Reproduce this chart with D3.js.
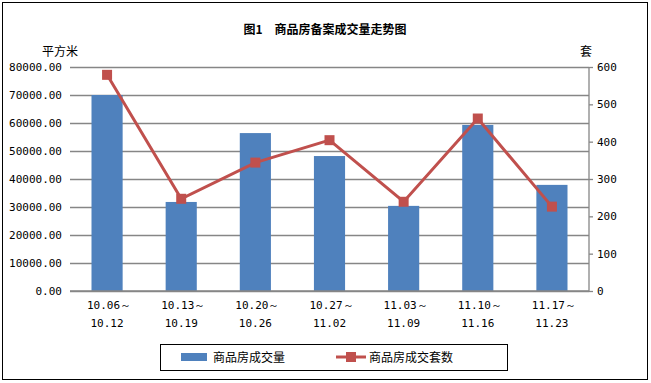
<!DOCTYPE html>
<html><head><meta charset="utf-8">
<script src="https://cdn.jsdelivr.net/npm/d3@7"></script>
<style>body{margin:0;background:#fff}svg{display:block}</style>
</head><body><svg id="c" width="651" height="383"></svg>
<script>
const categories = [["10.06～","10.12"],["10.13～","10.19"],["10.20～","10.26"],["10.27～","11.02"],["11.03～","11.09"],["11.10～","11.16"],["11.17～","11.23"]];
const areaValues = [70000, 31800, 56400, 48200, 30400, 59300, 37900];
const unitValues = [579, 247, 344, 404, 239, 462, 226];
const leftTicks = [0,10000,20000,30000,40000,50000,60000,70000,80000];
const rightTicks = [0,100,200,300,400,500,600];
const title = "图1　商品房备案成交量走势图";
const seriesNames = ["商品房成交量","商品房成交套数"];

const svg = d3.select("#c");
const W=651,H=383;
const m={l:70,r:589,t:67,b:291};
const blue="#4F81BD", red="#C0504D", grid="#868686";
const cjk="'Noto Sans CJK SC', sans-serif";
const mono="'DejaVu Sans Mono', monospace";

svg.append("rect").attr("x",2.5).attr("y",2.5).attr("width",645).attr("height",377).attr("fill","#fff").attr("stroke","#000").attr("stroke-width",1);

const x=d3.scaleBand().domain(d3.range(categories.length)).range([m.l,m.r]).paddingInner(0.58).paddingOuter(0.29);
const yL=d3.scaleLinear().domain([0,80000]).range([m.b,m.t]);
const yR=d3.scaleLinear().domain([0,600]).range([m.b,m.t]);

// gridlines
const gl=d3.axisLeft(yL).tickValues(leftTicks).tickSize(-(m.r-m.l)).tickFormat(d=>d3.format(".2f")(d)).tickPadding(8);
const ga=svg.append("g").attr("transform",`translate(${m.l},0)`).call(gl);
ga.select(".domain").remove();
ga.selectAll("line").attr("stroke",grid).attr("stroke-width",1.3);
ga.selectAll("text").attr("font-family",mono).attr("font-size",11).attr("fill","#000");

// bars
svg.append("g").selectAll("rect").data(areaValues).join("rect")
  .attr("x",(d,i)=>x(i)).attr("width",x.bandwidth())
  .attr("y",d=>yL(d)).attr("height",d=>yL(0)-yL(d)).attr("fill",blue);

// right axis
const ra=svg.append("g").attr("transform",`translate(${m.r},0)`).call(d3.axisRight(yR).tickValues(rightTicks).tickSize(4).tickPadding(4));
ra.select(".domain").attr("stroke",grid).attr("stroke-width",1.3).attr("d",`M0,${m.t}V${m.b}`);
ra.selectAll("line").attr("stroke",grid).attr("stroke-width",1.3);
ra.selectAll("text").attr("font-family",mono).attr("font-size",11).attr("fill","#000");

// baseline
svg.append("line").attr("x1",m.l).attr("x2",m.r).attr("y1",m.b).attr("y2",m.b).attr("stroke",grid).attr("stroke-width",1.3);

// line series
const cx=i=>x(i)+x.bandwidth()/2;
svg.append("path").datum(unitValues).attr("fill","none").attr("stroke",red).attr("stroke-width",3)
  .attr("d",d3.line().x((d,i)=>cx(i)).y(d=>yR(d)));
svg.append("g").selectAll("rect").data(unitValues).join("rect")
  .attr("x",(d,i)=>cx(i)-5).attr("y",d=>yR(d)-5).attr("width",10).attr("height",10).attr("fill",red);

// category labels
const cl=svg.append("g");
categories.forEach((c,i)=>{
  c.forEach((t,j)=>{
    cl.append("text").attr("x",cx(i)+(j===0?2:0)).attr("y",309+j*18).attr("text-anchor","middle")
      .attr("font-family",mono).attr("font-size",11).text(t);
  });
});

// title & units
svg.append("text").attr("x",325).attr("y",34).attr("text-anchor","middle").attr("font-family",cjk).attr("font-weight","bold").attr("font-size",12).text(title);
svg.append("text").attr("x",42).attr("y",56).attr("font-family",cjk).attr("font-size",12).text("平方米");
svg.append("text").attr("x",580).attr("y",56).attr("font-family",cjk).attr("font-size",12).text("套");

// legend
const lg=svg.append("g");
lg.append("rect").attr("x",160.5).attr("y",344.5).attr("width",347).attr("height",26).attr("fill","#fff").attr("stroke","#000");
lg.append("rect").attr("x",181).attr("y",353).attr("width",26).attr("height",8).attr("fill",blue);
lg.append("text").attr("x",213).attr("y",362).attr("font-family",cjk).attr("font-size",12).text(seriesNames[0]);
lg.append("line").attr("x1",336).attr("x2",366).attr("y1",357).attr("y2",357).attr("stroke",red).attr("stroke-width",3);
lg.append("rect").attr("x",346).attr("y",352).attr("width",10).attr("height",10).attr("fill",red);
lg.append("text").attr("x",369).attr("y",362).attr("font-family",cjk).attr("font-size",12).text(seriesNames[1]);
</script></body></html>
